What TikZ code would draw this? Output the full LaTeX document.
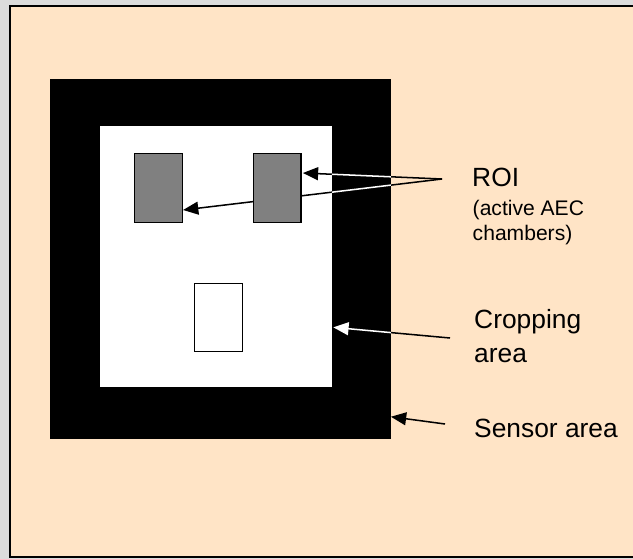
\documentclass[tikz,border=0pt]{standalone}
\usepackage{fontspec}
\setmainfont{Liberation Sans}
\usetikzlibrary{arrows.meta, calc}
\definecolor{PageGray}{HTML}{DCDCDC}
\definecolor{Peach}{HTML}{FFE4C6}
\definecolor{RoiGray}{HTML}{808080}
\pgfdeclarelayer{board}
\pgfdeclarelayer{wires}
\pgfsetlayers{board,wires,main}
\tikzset{
  sensorbox/.style={fill=black, draw=black, inner sep=0pt},
  cropbox/.style={fill=white, draw=none, inner sep=0pt},
  roibox/.style={fill=RoiGray, draw=black, line width=1.3pt, minimum width=1.43cm, minimum height=2.06cm, inner sep=0pt},
  emptybox/.style={fill=white, draw=black, line width=1.3pt, minimum width=1.43cm, minimum height=2.03cm, inner sep=0pt},
  label/.style={anchor=base west, inner sep=0pt, font=\fontsize{22.5}{29}\selectfont},
  note/.style={anchor=base west, inner sep=0pt, font=\fontsize{18}{21}\selectfont},
  pointer/.style={-{Triangle[length=13pt, width=11pt]}, line width=1.3pt, draw=black},
  whitepointer/.style={-{Triangle[length=13pt, width=11pt]}, line width=1.3pt, draw=white}
}

\begin{document}
\begin{tikzpicture}[x=0.03cm, y=-0.03cm]
\useasboundingbox (0,0) rectangle (633,559);
\begin{pgfonlayer}{board}
\fill[PageGray] (0,0) rectangle (633,559);
\draw[fill=Peach, line width=1.7pt] (9.8,5.8) rectangle (650,557);
\node[sensorbox, minimum width=10.2cm, minimum height=10.77cm] (sensor) at (220.7,259) {};
\node[cropbox, minimum width=6.96cm, minimum height=7.83cm] (crop) at (215.6,256.6) {};
\end{pgfonlayer}

% regions of interest
\node[roibox] (roiA) at (158.5,188) {};
\node[roibox] (roiB) at (277.3,188) {};
\node[emptybox] (spot) at (218.5,317.5) {};

% labels
\node[label] (roiLabel) at (472,186) {ROI};
\node[note] (roiNote) at (472.5,215) {(active AEC};
\node[note] (roiNote2) at (472.5,240) {chambers)};
\node[label, align=left] (cropLabel) at (474,362) {Cropping\\area};
\node[label] (sensorLabel) at (474,437) {Sensor area};

\coordinate (roiFork) at (442,179);
\coordinate (cropFrom) at (450,338);
\coordinate (sensorFrom) at (445,424);

\begin{pgfonlayer}{wires}
\draw[pointer] (roiFork) -- ($(roiB.east)+(1,-15)$);
\draw[pointer] (roiFork) -- ($(roiA.east)+(0,22)$);
\draw[pointer] (cropFrom) -- ($(crop.south east)+(1.5,-60)$);
\draw[pointer] (sensorFrom) -- ($(sensor.south east)+(0,-22)$);
% inverted on the black frame
\begin{scope}[even odd rule]
\clip (sensor.north west) rectangle (sensor.south east)
  (crop.north west) rectangle (crop.south east);
\draw[whitepointer] (roiFork) -- ($(roiB.east)+(1,-15)$);
\draw[whitepointer] (roiFork) -- ($(roiA.east)+(0,22)$);
\draw[whitepointer] (cropFrom) -- ($(crop.south east)+(1.5,-60)$);
\end{scope}
\end{pgfonlayer}
\end{tikzpicture}
\end{document}
